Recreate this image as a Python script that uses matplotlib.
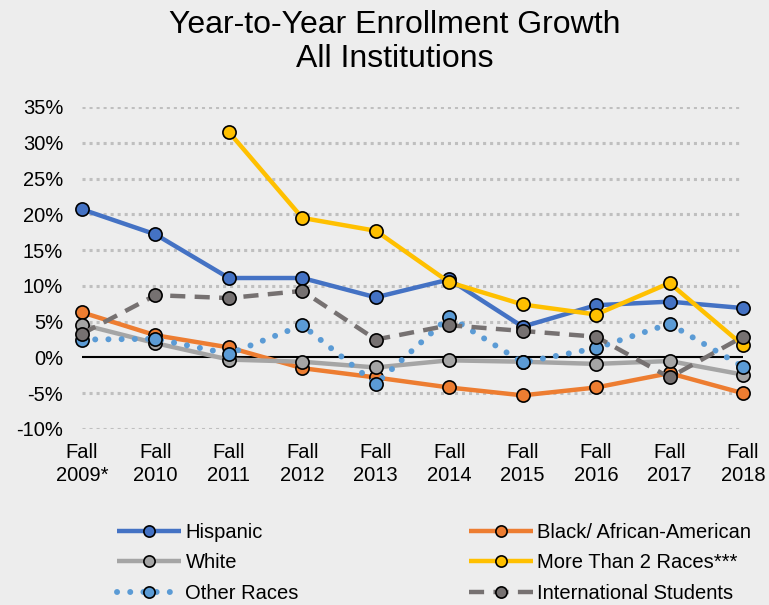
import matplotlib
matplotlib.use("Agg")
import matplotlib.pyplot as plt
import numpy as np

plt.rcParams['font.family'] = ['Liberation Sans', 'DejaVu Sans']

categories = ["Fall\n2009*", "Fall\n2010", "Fall\n2011", "Fall\n2012", "Fall\n2013",
              "Fall\n2014", "Fall\n2015", "Fall\n2016", "Fall\n2017", "Fall\n2018"]

hispanic = [20.7, 17.2, 11.1, 11.1, 8.4, 10.9, 4.3, 7.3, 7.8, 6.9]
black = [6.3, 3.1, 1.4, -1.5, -2.8, -4.2, -5.3, -4.2, -2.2, -5.0]
white = [4.6, 2.0, -0.3, -0.6, -1.4, -0.4, -0.6, -0.9, -0.5, -2.4]
more_than_2 = [np.nan, np.nan, 31.5, 19.5, 17.7, 10.5, 7.4, 6.0, 10.4, 1.7]
other_races = [2.5, 2.6, 0.5, 4.5, -3.7, 5.7, -0.7, 1.3, 4.7, -1.3]
international = [3.3, 8.7, 8.3, 9.3, 2.5, 4.5, 3.7, 2.9, -2.8, 2.9]

yticks = [-10, -5, 0, 5, 10, 15, 20, 25, 30, 35]

bg = "#EDEDED"
fig = plt.figure(figsize=(7.69, 6.05), dpi=100, facecolor=bg)
ax = fig.add_axes([82/769, 1-429/605, (743-82)/769, (429-107)/605])
ax.set_facecolor(bg)

x = np.arange(len(categories))

for yv in yticks:
    if yv == 0:
        continue
    ax.axhline(yv, color="#BFBFBF", lw=2.2, linestyle=(0, (1, 1.3)), zorder=1)
ax.axhline(0, color="black", lw=1.5, zorder=2)

series = [
    ("Hispanic", hispanic, "#4472C4", "#4472C4", "-"),
    ("Black/ African-American", black, "#ED7D31", "#ED7D31", "-"),
    ("White", white, "#A5A5A5", "#A5A5A5", "-"),
    ("More Than 2 Races***", more_than_2, "#FFC000", "#FFC000", "-"),
    ("Other Races", other_races, "#5B9BD5", "#5B9BD5", (0, (0.01, 2.2))),
    ("International Students", international, "#767171", "#767171", (0, (3.4, 2.1))),
]

handles = {}
for i, (name, vals, lc, mc, ls) in enumerate(series):
    if name == "Other Races":
        lw = 4.3
        cap = "round"
    elif name == "International Students":
        lw = 3.2
        cap = "butt"
    else:
        lw = 3.2
        cap = "projecting"
    h, = ax.plot(x, vals, color=lc, lw=lw, linestyle=ls, marker="o", markersize=9.5,
                 markerfacecolor=mc, markeredgecolor="black", markeredgewidth=1.2,
                 zorder=3 + i, clip_on=False, dash_capstyle=cap, solid_capstyle="butt")
    handles[name] = h

ax.set_xlim(0, 9)
ax.set_ylim(-10, 35)
ax.set_yticks(yticks)
ax.set_yticklabels([f"{v}%" for v in yticks], fontsize=14.5)
ax.set_xticks(x)
ax.set_xticklabels(categories, fontsize=14.5, linespacing=1.3)
ax.tick_params(axis="both", length=0)
ax.tick_params(axis="y", pad=13.5)
ax.tick_params(axis="x", pad=10)
for s in ax.spines.values():
    s.set_visible(False)

fig.text(395/769, 1-42/605, "Year-to-Year Enrollment Growth\nAll Institutions",
         ha="center", va="center", fontsize=23, linespacing=1.18)

leg_kw = dict(frameon=False, fontsize=14.5, handlelength=3.2, handletextpad=0.2,
              labelspacing=0.57, borderpad=0, borderaxespad=0, markerscale=0.85,
              loc="upper left")
l1 = fig.legend([handles["Hispanic"], handles["White"], handles["Other Races"]],
                ["Hispanic", "White", "Other Races"],
                bbox_to_anchor=(117/769, 1-523/605), **leg_kw)
l2 = fig.legend([handles["Black/ African-American"], handles["More Than 2 Races***"],
                 handles["International Students"]],
                ["Black/ African-American", "More Than 2 Races***", "International Students"],
                bbox_to_anchor=(469/769, 1-523/605), **leg_kw)

fig.savefig("out.png", dpi=100, facecolor=bg)
